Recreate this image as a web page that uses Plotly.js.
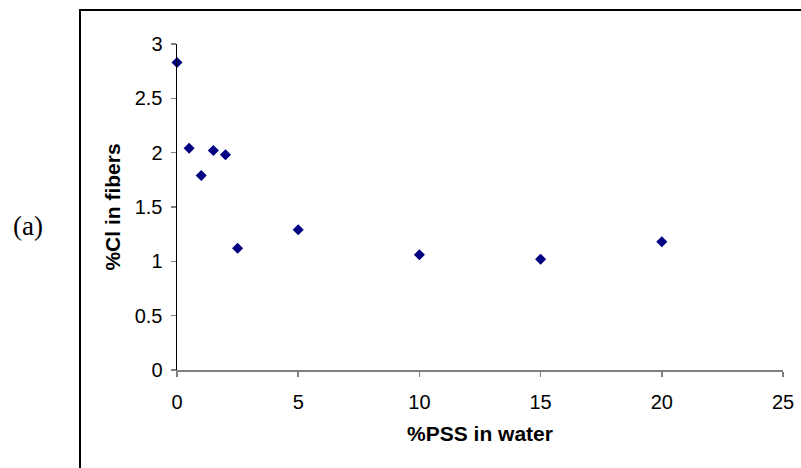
<!DOCTYPE html>
<html>
<head>
<meta charset="utf-8">
<script src="https://cdn.plot.ly/plotly-3.0.1.min.js"></script>
<style>html,body{margin:0;padding:0;background:#fff;}#chart{width:801px;height:468px;}</style>
</head>
<body>
<div id="chart"></div>
<script>
const pssInWater = [0, 0.5, 1, 1.5, 2, 2.5, 5, 10, 15, 20];
const clInFibers = [2.83, 2.04, 1.79, 2.02, 1.98, 1.12, 1.29, 1.06, 1.02, 1.18];
const xTicks = [0, 5, 10, 15, 20, 25];
const yTicks = [0, 0.5, 1, 1.5, 2, 2.5, 3];
const yTickText = ['0', '0.5', '1', '1.5', '2', '2.5', '3'];

const L = 177, R = 18, T = 44, B = 98, W = 801, H = 468;
const pw = W - L - R, ph = H - T - B;
const px = v => (v - L) / pw;
const py = v => (H - B - v) / ph;

const trace = {
  x: pssInWater, y: clInFibers, type: 'scatter', mode: 'markers',
  marker: {symbol: 'diamond', size: 8.5, color: '#000080'},
  cliponaxis: false, hoverinfo: 'none'
};

const layout = {
  width: W, height: H,
  margin: {l: L, r: R, t: T, b: B, pad: 0},
  paper_bgcolor: '#fff', plot_bgcolor: '#fff',
  showlegend: false,
  font: {family: 'Liberation Sans, Arial, sans-serif', size: 20, color: '#000'},
  xaxis: {
    range: [0, 25], tickvals: xTicks, ticktext: xTicks.map(String),
    showgrid: false, zeroline: false, showline: true, linecolor: '#808080', linewidth: 2,
    ticks: 'outside', ticklen: 5, tickcolor: '#808080', tickwidth: 1.5,
    tickfont: {size: 20}, ticklabelstandoff: 8,
    title: {text: '<b>%PSS in water</b>', font: {size: 21}, standoff: 14}
  },
  yaxis: {
    range: [0, 3], tickvals: yTicks, ticktext: yTickText,
    showgrid: false, zeroline: false, showline: true, linecolor: '#000', linewidth: 1.5,
    ticks: 'outside', ticklen: 5, tickcolor: '#808080', tickwidth: 1.5,
    tickfont: {size: 20}, ticklabelstandoff: 4,
    title: {text: '<b>%Cl in fibers</b>', font: {size: 21}, standoff: 8}
  },
  shapes: [
    {type: 'line', xref: 'paper', yref: 'paper', x0: px(80), x1: px(80), y0: py(10), y1: py(470), line: {color: '#000', width: 2}},
    {type: 'line', xref: 'paper', yref: 'paper', x0: px(79), x1: px(803), y0: py(10), y1: py(10), line: {color: '#000', width: 2}}
  ],
  annotations: [
    {text: '(a)', xref: 'paper', yref: 'paper', x: px(28), y: py(226), showarrow: false,
     xanchor: 'center', yanchor: 'middle', font: {family: 'Liberation Serif, Times New Roman, serif', size: 27, color: '#000'}}
  ]
};

Plotly.newPlot('chart', [trace], layout, {staticPlot: true, displayModeBar: false});
</script>
</body>
</html>
